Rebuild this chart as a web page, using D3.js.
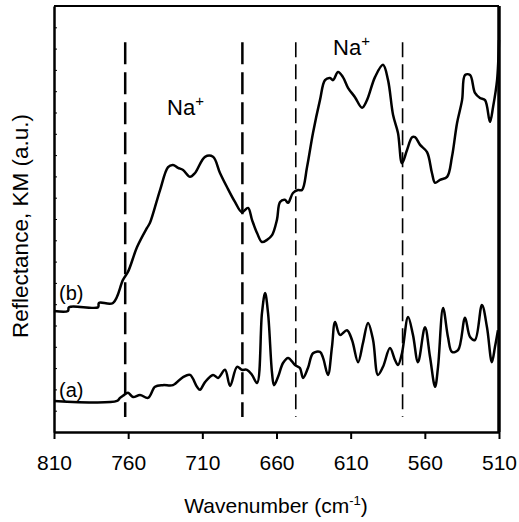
<!DOCTYPE html>
<html>
<head>
<meta charset="utf-8">
<script src="https://cdn.jsdelivr.net/npm/d3@7"></script>
<style>
  body { margin: 0; background: #fff; }
  text { font-family: "Liberation Sans", Arial, sans-serif; fill: #000; }
</style>
</head>
<body>
<svg id="chart" width="519" height="522"></svg>
<script>
// wavenumber (cm-1) and KM reflectance (a.u.)
var waveB = [810, 800.6, 799.9, 780.3, 779.7, 770.2, 763.5, 760.1, 754.0, 747.3, 745.3, 738.5, 733.1, 729.8, 726.4, 723.0,
  718.3, 714.9, 708.2, 702.8, 698.1, 693.4, 688.0, 683.3, 679.2, 676.5, 673.1, 669.8, 666.4, 663.0, 659.7, 657.6,
  654.3, 652.2, 648.9, 645.5, 642.8, 639.4, 635.4, 630.7, 627.3, 623.9, 621.9, 618.5, 615.2, 611.8, 607.1, 602.3,
  599.0, 593.6, 588.2, 584.8, 581.4, 578.1, 575.4, 572.0, 568.6, 566.6, 563.2, 558.5, 555.2, 553.1, 549.8, 545.0,
  541.7, 538.3, 534.9, 532.9, 529.5, 526.2, 522.8, 519.4, 516.1, 514.0, 511.3, 510.0];
var valB = [2.84, 2.84, 2.93, 2.93, 3.03, 3.03, 3.57, 3.76, 4.34, 4.79, 4.91, 5.68, 6.22, 6.27, 6.20, 6.15,
  5.99, 6.08, 6.46, 6.46, 6.08, 5.75, 5.40, 5.16, 5.26, 4.98, 4.67, 4.46, 4.51, 4.62, 4.98, 5.40,
  5.45, 5.38, 5.61, 5.68, 5.68, 6.22, 7.02, 7.79, 8.26, 8.31, 8.26, 8.45, 8.33, 8.08, 7.86, 7.61,
  7.79, 8.33, 8.62, 8.26, 7.44, 7.02, 6.31, 6.62, 6.92, 6.92, 6.74, 6.57, 6.08, 5.85, 5.92, 5.99,
  6.46, 7.25, 7.79, 8.38, 8.38, 7.96, 7.84, 7.79, 7.28, 7.63, 8.26, 9.20];

var waveA = [810, 767.5, 765.5, 763.5, 760.1, 756.7, 752.0, 746.6, 741.9, 736.5, 729.8, 723.0, 718.3, 713.6, 711.6, 708.2,
  702.8, 699.4, 694.7, 691.3, 686.6, 683.3, 679.9, 676.5, 673.1, 669.8, 667.7, 665.7, 663.0, 661.7, 659.0, 655.6,
  652.2, 647.5, 644.2, 642.1, 638.8, 635.4, 630.7, 628.6, 625.3, 622.6, 620.5, 617.2, 612.5, 609.1, 605.0, 601.7,
  598.3, 594.9, 591.6, 588.2, 583.5, 580.1, 578.1, 575.4, 571.3, 568.0, 564.6, 559.9, 556.5, 553.1, 551.1, 547.7,
  544.4, 541.7, 537.6, 532.9, 529.5, 526.2, 521.5, 518.1, 514.8, 512.7, 510.7];
var valA = [0.73, 0.73, 0.80, 0.85, 0.92, 0.82, 0.87, 0.80, 1.06, 1.10, 1.10, 1.29, 1.34, 1.06, 0.99, 1.17,
  1.34, 1.27, 1.46, 1.08, 1.53, 1.46, 1.46, 1.34, 1.15, 2.79, 3.26, 2.79, 1.38, 1.10, 1.29, 1.62,
  1.74, 1.57, 1.50, 1.27, 1.50, 1.85, 1.88, 1.74, 1.34, 2.00, 2.58, 2.28, 2.39, 2.16, 1.64, 2.09,
  2.56, 2.16, 1.34, 1.53, 1.97, 1.69, 1.57, 1.85, 2.70, 2.28, 1.64, 2.46, 1.76, 1.06, 1.53, 2.91,
  2.23, 1.88, 1.92, 2.68, 2.23, 2.16, 2.98, 2.46, 1.64, 2.00, 2.39];

var xTicks = [810, 760, 710, 660, 610, 560, 510];
var markers = [762, 683, 647, 575];

var svg = d3.select("#chart");
var x = d3.scaleLinear().domain([810, 510]).range([54, 499]);
var y = d3.scaleLinear().domain([0, 10]).range([432, 6]);

// frame
svg.append("line").attr("x1", 54).attr("x2", 499).attr("y1", 6).attr("y2", 6)
  .attr("stroke", "#000").attr("stroke-width", 2);
svg.append("line").attr("x1", 499).attr("x2", 499).attr("y1", 6).attr("y2", 432)
  .attr("stroke", "#000").attr("stroke-width", 3.5);

var xAxis = svg.append("g").attr("transform", "translate(0,432)")
  .call(d3.axisBottom(x).tickValues(xTicks).tickSize(7).tickSizeOuter(0).tickPadding(16));
xAxis.select(".domain").attr("stroke-width", 2.5);
xAxis.selectAll(".tick line").attr("stroke-width", 2);
xAxis.selectAll("text").attr("font-size", 21).attr("font-family", "Liberation Sans, Arial, sans-serif");

var yAxis = svg.append("g").attr("transform", "translate(54,0)")
  .call(d3.axisLeft(y).ticks(20).tickSize(-3).tickSizeOuter(0).tickFormat(""));
yAxis.select(".domain").attr("stroke-width", 2.5);

// dashed markers
svg.selectAll(".mark").data(markers).enter().append("line")
  .attr("class", "mark")
  .attr("x1", d => x(d)).attr("x2", d => x(d))
  .attr("y1", y(9.15)).attr("y2", y(0.35))
  .attr("stroke", "#000")
  .attr("stroke-width", (d, i) => i < 2 ? 2.5 : 1.6)
  .attr("stroke-dasharray", (d, i) => i < 2 ? "22,8" : "15,7");

var line = d3.line().x(d => x(d[0])).y(d => y(d[1])).curve(d3.curveCatmullRom);
svg.append("path").datum(d3.zip(waveB, valB)).attr("d", line)
  .attr("fill", "none").attr("stroke", "#000").attr("stroke-width", 2.5);
svg.append("path").datum(d3.zip(waveA, valA)).attr("d", line)
  .attr("fill", "none").attr("stroke", "#000").attr("stroke-width", 2.5);

// labels
function na(wn, v) {
  var t = svg.append("text").attr("x", x(wn)).attr("y", y(v)).attr("font-size", 22);
  t.append("tspan").text("Na");
  t.append("tspan").attr("dy", -9).attr("font-size", 15).text("+");
}
na(733.8, 7.44);
na(621.9, 8.85);

svg.append("text").attr("x", 59).attr("y", 300).attr("font-size", 20).text("(b)");
svg.append("text").attr("x", 59).attr("y", 397).attr("font-size", 20).text("(a)");

var xl = svg.append("text").attr("x", 276).attr("y", 513).attr("text-anchor", "middle").attr("font-size", 21);
xl.append("tspan").text("Wavenumber (cm");
xl.append("tspan").attr("dy", -8).attr("font-size", 13).text("-1");
xl.append("tspan").attr("dy", 8).text(")");

svg.append("text").attr("transform", "translate(28,226) rotate(-90)")
  .attr("text-anchor", "middle").attr("font-size", 22.5).text("Reflectance, KM (a.u.)");
</script>
</body>
</html>
